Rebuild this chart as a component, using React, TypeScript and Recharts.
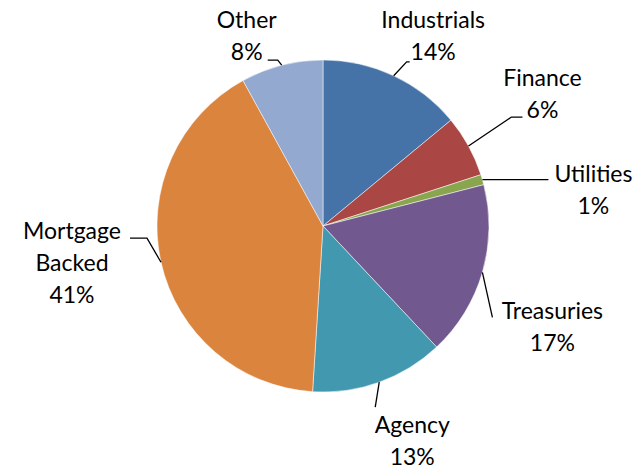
import React from 'react';
import { PieChart, Pie, Cell } from 'recharts';

const sectors = ['Industrials', 'Finance', 'Utilities', 'Treasuries', 'Agency', 'Mortgage Backed', 'Other'];
const shares = [14, 6, 1, 17, 13, 41, 8];
const colors = ['#4572A7', '#AA4643', '#89A54E', '#71588F', '#4198AF', '#DB843D', '#93A9CF'];

const data = sectors.map((name, i) => ({ name, value: shares[i] }));

// where each label sits, relative to the point on the rim at the slice's mid angle
// elbow: end of the slanted leader, tail: horizontal run after it, text: centre x / first baseline
const placement: Record<string, { elbow: [number, number]; tail: number; text: [number, number]; lines: string[] }> = {
  Industrials: { elbow: [13, -14], tail: 3, text: [39.5, -48], lines: ['Industrials'] },
  Finance: { elbow: [43, -29], tail: 11, text: [74, -60], lines: ['Finance'] },
  Utilities: { elbow: [66, 0], tail: 0, text: [111, 2], lines: ['Utilities'] },
  Treasuries: { elbow: [10, 45], tail: 0, text: [70, 47], lines: ['Treasuries'] },
  Agency: { elbow: [-4, 25], tail: 0, text: [33, 51], lines: ['Agency'] },
  'Mortgage Backed': { elbow: [-14, -24], tail: -17, text: [-89, -23], lines: ['Mortgage', 'Backed'] },
  Other: { elbow: [-4, -5], tail: -10, text: [-35, -37], lines: ['Other'] },
};

const RAD = Math.PI / 180;
const LINE_H = 32;

const SliceLabel = (props: any) => {
  const { cx, cy, midAngle, outerRadius, name, percent } = props;
  const p = placement[name];
  if (!p) return null;
  const ex = cx + outerRadius * Math.cos(-midAngle * RAD);
  const ey = cy + outerRadius * Math.sin(-midAngle * RAD);
  const bx = ex + p.elbow[0];
  const by = ey + p.elbow[1];
  const tx = ex + p.text[0];
  const ty = ey + p.text[1];
  const rows = [...p.lines, `${Math.round(percent * 100)}%`];
  return (
    <g>
      <polyline
        points={`${ex},${ey} ${bx},${by} ${bx + p.tail},${by}`}
        fill="none"
        stroke="#000"
        strokeWidth={1.3}
      />
      <text x={tx} y={ty} textAnchor="middle" fill="#000" fontSize={23} fontFamily="Lato, 'Open Sans', sans-serif">
        {rows.map((r, i) => (
          <tspan key={i} x={tx} y={ty + i * LINE_H}>
            {r}
          </tspan>
        ))}
      </text>
    </g>
  );
};

export default function App() {
  return (
    <div style={{ position: 'absolute', left: 0, top: 0, width: 640, height: 467, background: '#fff' }}>
      <PieChart width={640} height={467} margin={{ top: 0, right: 0, bottom: 0, left: 0 }}>
        <Pie
          data={data}
          dataKey="value"
          nameKey="name"
          cx={323}
          cy={226}
          outerRadius={166}
          startAngle={90}
          endAngle={-270}
          stroke="#ffffff"
          strokeWidth={0.5}
          label={SliceLabel}
          labelLine={false}
          isAnimationActive={false}
        >
          {data.map((d, i) => (
            <Cell key={d.name} fill={colors[i]} />
          ))}
        </Pie>
      </PieChart>
    </div>
  );
}
